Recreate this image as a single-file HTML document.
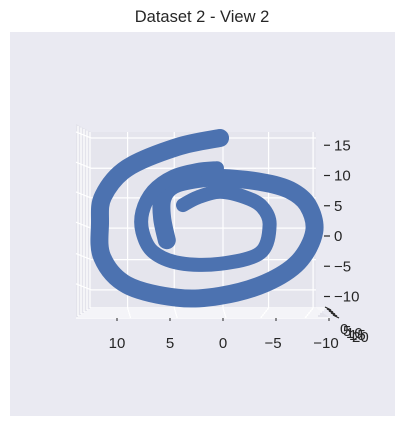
<!DOCTYPE html>
<html><head><meta charset="utf-8"><style>
html,body{margin:0;padding:0;background:#fff;}
svg{display:block;font-family:"Liberation Sans","DejaVu Sans",sans-serif;}
</style></head><body>
<svg id="chart" width="404" height="427" viewBox="0 0 404 427">
  <text x="202" y="22" text-anchor="middle" font-size="16.5" fill="#262626">Dataset 2 - View 2</text>
  <rect x="10" y="32" width="385" height="384" fill="#eaeaf2"/>
  <g id="panes">
    <polygon points="76,124 91,132 91,308 76,318" fill="#e3e3eb"/>
    <polygon points="91,308 316,308 330,318 76,318" fill="#e3e3eb"/>
    <rect x="91" y="132" width="225" height="176" fill="#e5e5ed"/>
  </g>
  <g id="grid" stroke="#fff" stroke-width="1.2"></g>
  <g id="series"></g>
  <g id="axes" font-size="15" fill="#262626"></g>
</svg>
<script>
// x (horizontal, reversed) and y (vertical) data values for the two visible strands
const strandAX=[0.28,4.34,9.06,11.3,11.6,11.4,9.06,4.34,0.28,-4.0,-7.1,-8.6,-8.0,-6.3,-3.7,0.28,2.45,4.7,5.7,5.75,5.3];
const strandAY=[16.2,14.7,11.2,6.6,2.1,-3.5,-8.1,-10.2,-9.9,-7.8,-4.3,0.7,5.1,7.6,8.9,9.6,9.4,8.4,6.3,3.0,-0.7];
const strandBX=[0.57,2.45,4.7,6.6,7.6,7.6,6.6,4.06,0.28,-3.5,-4.4,-3.7,-2.1,0.28,2.36,3.77];
const strandBY=[11.2,10.9,9.8,7.4,4.0,0.7,-2.6,-4.5,-4.6,-2.8,1.8,4.8,6.4,7.3,6.4,5.1];
const xTicks=[10,5,0,-5,-10];
const yTicks=[15,10,5,0,-5,-10];
const zTickLabels=["0","5","10","15","20"];
const xGridVals=[9,4.6,0,-4.3,-8.5];
const yGridVals=[16.2,11.2,6.3,1.3,-3.9,-8.9];

const sx=v=>223-v*10.6;
const sy=v=>236-v*6.05;
const NS='http://www.w3.org/2000/svg';
function mk(tag,attrs,parent){const e=document.createElementNS(NS,tag);for(const k in attrs)e.setAttribute(k,attrs[k]);parent.appendChild(e);return e;}

const grid=document.getElementById('grid');
xGridVals.forEach(v=>{
  const l=mk('line',{x1:sx(v),y1:132,x2:sx(v),y2:308},grid);
  
  
  const l2=mk('line',{x1:sx(v),y1:308,x2:sx(v)-(sx(v)>223?8:-3),y2:318},grid);
  
  
});
yGridVals.forEach(v=>{
  const l=mk('line',{x1:91,y1:sy(v),x2:316,y2:sy(v)},grid);
  
  
  const l2=mk('line',{x1:76,y1:sy(v)-6,x2:91,y2:sy(v)},grid);
  
  
});
[0,1,2,3,4].forEach(i=>{
  const l=mk('line',{x1:78+i*3,y1:126+i*1.5,x2:78+i*3,y2:316-i*2},grid);
  
  
  const l2=mk('line',{x1:78+i*3,y1:316-i*2,x2:318+i*2,y2:316-i*2},grid);
  
  
});
const edge=mk('line',{x1:76,y1:318,x2:330,y2:318},grid);



function smoothPath(xs,ys){
  const p=xs.map((x,i)=>[sx(x),sy(ys[i])]);
  let d='M'+p[0][0]+','+p[0][1];
  for(let i=0;i<p.length-1;i++){
    const p0=p[i-1]||p[i],p1=p[i],p2=p[i+1],p3=p[i+2]||p2;
    const c1=[p1[0]+(p2[0]-p0[0])/6,p1[1]+(p2[1]-p0[1])/6];
    const c2=[p2[0]-(p3[0]-p1[0])/6,p2[1]-(p3[1]-p1[1])/6];
    d+=' C'+c1[0].toFixed(1)+','+c1[1].toFixed(1)+' '+c2[0].toFixed(1)+','+c2[1].toFixed(1)+' '+p2[0].toFixed(1)+','+p2[1].toFixed(1);
  }
  return d;
}
const series=document.getElementById('series');
const pa=mk('path',{d:smoothPath(strandAX,strandAY),fill:'none',stroke:'#4c72b0','stroke-width':18,'stroke-linecap':'round','stroke-linejoin':'round'},series);


const pb=mk('path',{d:smoothPath(strandBX,strandBY),fill:'none',stroke:'#4c72b0','stroke-width':14,'stroke-linecap':'round','stroke-linejoin':'round'},series);



const axes=document.getElementById('axes');
xTicks.forEach(v=>{
  const t=mk('text',{x:sx(v)-(v<0?3:0),y:348,'text-anchor':'middle'},axes);
  t.textContent=v<0?'\u2212'+(-v):String(v);
  
  
  const m=mk('line',{x1:sx(v),y1:318,x2:sx(v),y2:321,stroke:'#262626','stroke-width':1},axes);
  
  
});
yTicks.forEach(v=>{
  const t=mk('text',{x:334,y:sy(v)+5,'text-anchor':'start'},axes);
  t.textContent=v<0?'\u2212'+(-v):String(v);
  
  
  const m=mk('line',{x1:324,y1:sy(v),x2:330,y2:sy(v),stroke:'#262626','stroke-width':1.2},axes);
  
  
});
zTickLabels.forEach((s,i)=>{
  const t=mk('text',{x:340+i*3,y:334+i*2},axes);
  t.textContent=s;
  
  
  const m=mk('line',{x1:325+i*2,y1:307+i*2,x2:331+i*2,y2:310+i*2,stroke:'#262626','stroke-width':1.2},axes);
  
  
});
</script>
</body></html>
